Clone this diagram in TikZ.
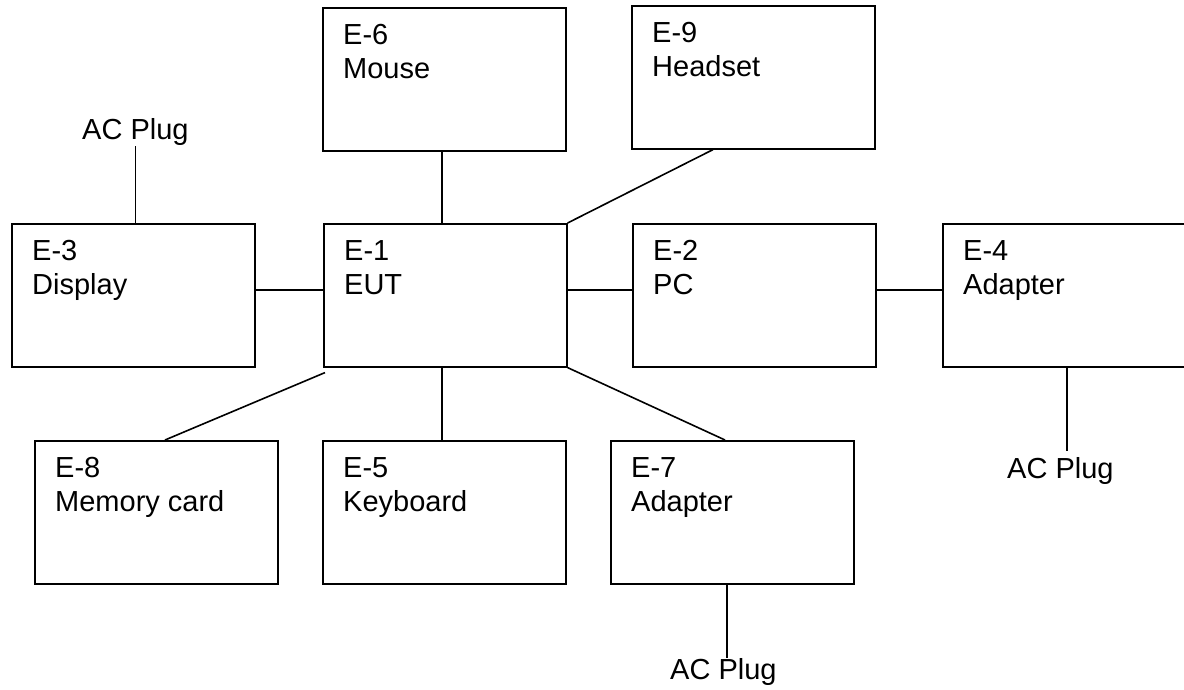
\documentclass[tikz,border=0pt]{standalone}
\usepackage{fontspec}
\setmainfont{Liberation Sans}
\usetikzlibrary{calc}
\begin{document}
\begin{tikzpicture}[x=1pt,y=-1pt,
  box/.style={draw, line width=1.6pt, minimum width=243pt, minimum height=143pt, inner sep=0pt, anchor=north west},
  lbl/.style={anchor=north west, inner sep=0pt, align=left, font=\fontsize{29}{34}\selectfont},
  plug/.style={anchor=base west, inner sep=0pt, font=\fontsize{29}{34}\selectfont},
  conn/.style={line width=1.6pt}]
\clip (0,0) rectangle (1184,690);
\fill[white] (0,0) rectangle (1184,690);
% boxes
\node[box] (e6) at (322,7) {};
\node[box] (e9) at (631,5) {};
\node[box] (e3) at (11,223) {};
\node[box] (e1) at (323,223) {};
\node[box] (e2) at (632,223) {};
\node[box, minimum width=244pt] (e4) at (942,223) {};
\node[box] (e8) at (34,440) {};
\node[box] (e5) at (322,440) {};
\node[box] (e7) at (610,440) {};
% labels
\node[lbl] (t6) at ($(e6.north west)+(21,17.5)$) {E-6\\Mouse};
\node[lbl] (t9) at ($(e9.north west)+(21,17.5)$) {E-9\\Headset};
\node[lbl] (t3) at ($(e3.north west)+(21,17.5)$) {E-3\\Display};
\node[lbl] (t1) at ($(e1.north west)+(21,17.5)$) {E-1\\EUT};
\node[lbl] (t2) at ($(e2.north west)+(21,17.5)$) {E-2\\PC};
\node[lbl] (t4) at ($(e4.north west)+(21,17.5)$) {E-4\\Adapter};
\node[lbl] (t8) at ($(e8.north west)+(21,17.5)$) {E-8\\Memory card};
\node[lbl] (t5) at ($(e5.north west)+(21,17.5)$) {E-5\\Keyboard};
\node[lbl] (t7) at ($(e7.north west)+(21,17.5)$) {E-7\\Adapter};
% AC plugs
\node[plug] (ac3) at (82,140) {AC Plug};
\node[plug] (ac4) at (1007,478) {AC Plug};
\node[plug] (ac7) at (670,679) {AC Plug};
% connector points
\coordinate (p6) at ($(e6.south west)+(120,0)$);
\coordinate (p5) at ($(e5.north west)+(120,0)$);
\coordinate (p9) at ($(e9.south west)+(82,0)$);
\coordinate (q1) at ($(e1.south west)+(2,5)$);
\coordinate (p8) at ($(e8.north west)+(131,0)$);
\coordinate (p7) at ($(e7.north west)+(115,0)$);
\coordinate (p4) at ($(e4.south west)+(125,0)$);
\coordinate (p7b) at ($(e7.south west)+(117,0)$);
% connectors
\draw[conn] (ac3.south) -- (ac3.south |- e3.north);
\draw[conn] ($(e3.north east)+(0,67)$) -- ($(e1.north west)+(0,67)$);
\draw[conn] (p6) -- (p6 |- e1.north);
\draw[conn] (p9) -- (e1.north east);
\draw[conn] ($(e1.north east)+(0,67)$) -- ($(e2.north west)+(0,67)$);
\draw[conn] ($(e2.north east)+(0,67)$) -- ($(e4.north west)+(0,67)$);
\draw[conn] (q1) -- (p8);
\draw[conn] (p5) -- (p5 |- e1.south);
\draw[conn] (e1.south east) -- (p7);
\draw[conn] (p4) -- ($(p4 |- ac4.north)+(0,-6)$);
\draw[conn] (p7b) -- (p7b |- ac7.north);
\end{tikzpicture}
\end{document}
